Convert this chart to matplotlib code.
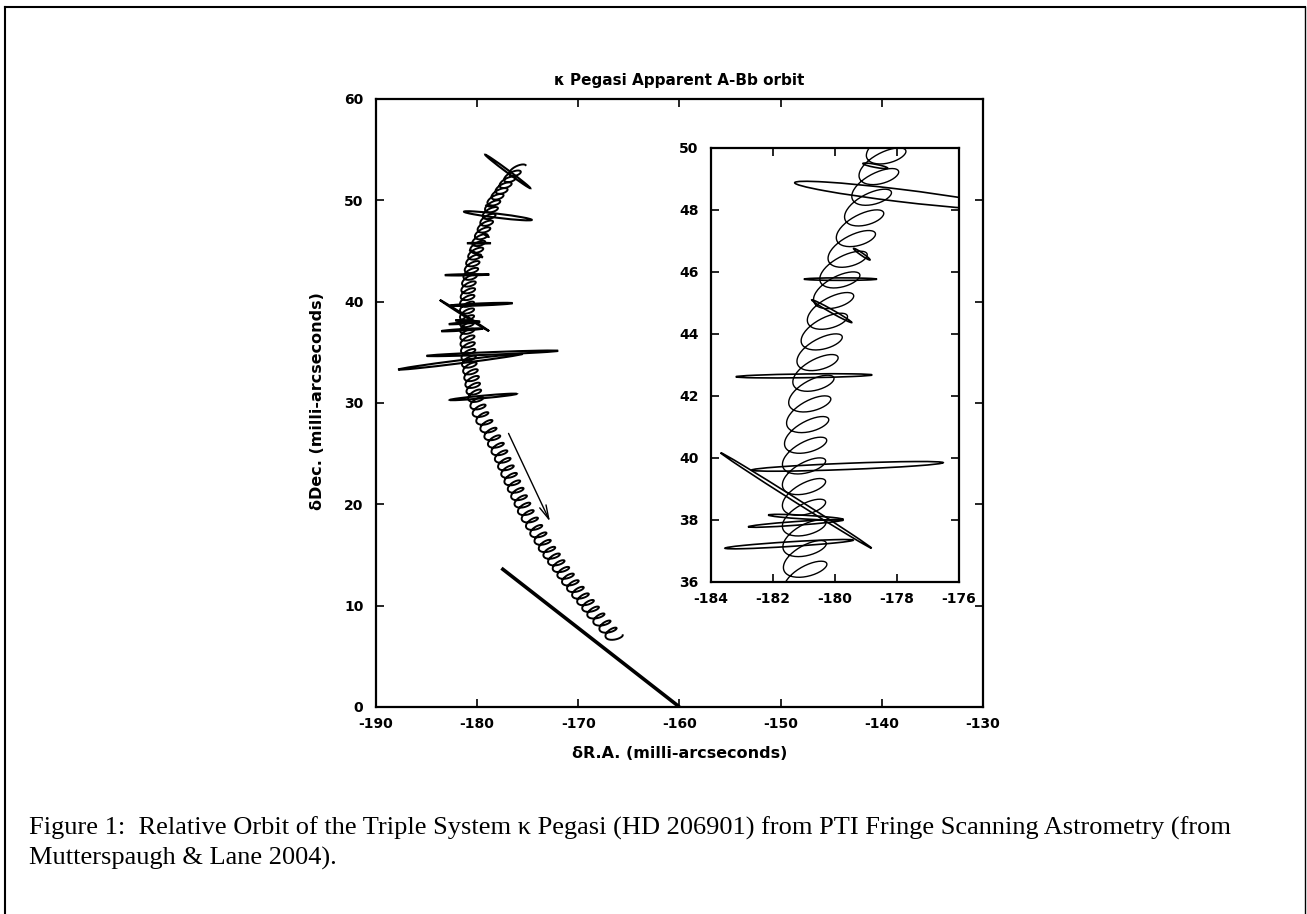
import numpy as np
import matplotlib
matplotlib.use("Agg")
import matplotlib.pyplot as plt
from matplotlib.patches import Ellipse
from matplotlib.lines import Line2D

# Apparent A-Bb orbit: centre track of the wobble
track_dec = [53.2, 52.0, 50.0, 48.0, 46.0, 44.0, 42.0, 40.0, 38.0, 36.0, 34.0,
             31.0, 29.0, 27.0, 25.0, 22.4, 19.1, 15.8, 12.5, 9.25, 6.8]
track_ra = [-175.9, -176.9, -178.3, -179.0, -179.8, -180.4, -180.8, -181.0, -181.0, -180.95, -180.8,
            -180.3, -179.7, -178.65, -177.7, -176.6, -175.1, -173.2, -170.9, -168.4, -166.3]
# number of Ba-Bb loops counted from the top end of the track
track_loops = [0, 2, 5.5, 8.5, 11.5, 14.5, 17.5, 20.5, 23.5, 26.5, 29.5,
               34, 36.7, 39.3, 42, 45.5, 50, 54.5, 59.5, 64.5, 68]

# measurement error ellipses (needle ends + minor axis), mas
err_ra1 = [-179.2, -181.3, -179.1, -179.4, -181.0, -180.75, -183.2, -183.69,
           -182.69, -182.15, -182.8, -183.55, -185.0, -187.8, -182.7]
err_dec1 = [54.5, 48.88, 49.5, 46.76, 45.77, 45.1, 42.62, 40.17,
            39.61, 38.16, 37.78, 37.09, 34.65, 33.3, 30.3]
err_ra2 = [-174.75, -174.6, -178.3, -178.87, -178.65, -179.46, -178.8, -178.82,
           -176.51, -179.73, -179.73, -179.41, -172.0, -175.5, -176.1]
err_dec2 = [51.2, 48.07, 49.35, 46.39, 45.77, 44.37, 42.68, 37.09,
            39.85, 38.02, 38.0, 37.35, 35.15, 34.85, 30.9]
err_w = [0.25, 0.4, 0.1, 0.08, 0.08, 0.1, 0.12, 0.12,
         0.2, 0.12, 0.12, 0.15, 0.25, 0.3, 0.25]

# A-Ba segment and direction-of-motion arrow
line_ra = [-177.6, -160.0]
line_dec = [13.7, 0.0]
arrow_ra = [-176.9, -172.8]
arrow_dec = [27.0, 18.3]

main_xticks = [-190, -180, -170, -160, -150, -140, -130]
main_yticks = [0, 10, 20, 30, 40, 50, 60]
inset_xticks = [-184, -182, -180, -178, -176]
inset_yticks = [36, 38, 40, 42, 44, 46, 48, 50]

title = "\u03ba Pegasi Apparent A-Bb orbit"
xlabel = "\u03b4R.A. (milli-arcseconds)"
ylabel = "\u03b4Dec. (milli-arcseconds)"
caption1 = ("Figure 1:  Relative Orbit of the Triple System \u03ba Pegasi (HD 206901) "
            "from PTI Fringe Scanning Astrometry (from")
caption2 = "Mutterspaugh & Lane 2004)."

plt.rcParams['font.family'] = ['DejaVu Sans']
plt.rcParams['font.weight'] = 'bold'
plt.rcParams['axes.unicode_minus'] = False

W, H = 1307, 914


def fx(px):
    return px / W


def fy(py):
    return 1 - py / H


def wobble_path():
    # loop shape of the inner pair, projected on the sky
    a, b, tilt = 0.74, 0.33, np.radians(22)
    u = np.linspace(track_loops[0], track_loops[-1], 5000)
    ra = np.interp(u, track_loops, track_ra)
    dec = np.interp(u, track_loops, track_dec)
    ph = 2 * np.pi * u
    dx = a * np.cos(ph) * np.cos(tilt) - b * np.sin(ph) * np.sin(tilt)
    dy = a * np.cos(ph) * np.sin(tilt) + b * np.sin(ph) * np.cos(tilt)
    return ra + dx, dec + dy


def draw_errors(ax, lw):
    for x1, y1, x2, y2, w in zip(err_ra1, err_dec1, err_ra2, err_dec2, err_w):
        ang = np.degrees(np.arctan2(y2 - y1, x2 - x1))
        ax.add_patch(Ellipse(((x1 + x2) / 2, (y1 + y2) / 2), np.hypot(x2 - x1, y2 - y1), w,
                             angle=ang, fill=False, ec='black', lw=lw))


def style(ax, xt, yt):
    ax.set_xticks(xt)
    ax.set_yticks(yt)
    ax.tick_params(direction='in', top=True, right=True, length=6, width=1.2,
                   labelsize=10)
    ax.tick_params(axis='x', pad=7)
    ax.tick_params(axis='y', pad=9)
    for s in ax.spines.values():
        s.set_linewidth(1.6)


fig = plt.figure(figsize=(W / 100, H / 100), dpi=100)

orb_ra, orb_dec = wobble_path()

ax = fig.add_axes([fx(376), fy(707), fx(983) - fx(376), fy(99) - fy(707)])
ax.plot(orb_ra, orb_dec, color='black', lw=1.4)
draw_errors(ax, 1.5)
ax.plot(line_ra, line_dec, color='black', lw=2.6, solid_capstyle='butt')
ax.annotate('', xy=(arrow_ra[1], arrow_dec[1]), xytext=(arrow_ra[0], arrow_dec[0]),
            arrowprops=dict(arrowstyle='->,head_length=1.0,head_width=0.25',
                            lw=1.0, color='black', shrinkA=0, shrinkB=0))
ax.set_xlim(-190, -130)
ax.set_ylim(0, 60)
style(ax, main_xticks, main_yticks)

ins = fig.add_axes([fx(711), fy(582), fx(959) - fx(711), fy(148) - fy(582)])
ins.set_facecolor('white')
ins.plot(orb_ra, orb_dec, color='black', lw=1.0)
draw_errors(ins, 1.2)
ins.set_xlim(-184, -176)
ins.set_ylim(36, 50)
style(ins, inset_xticks, inset_yticks)

fig.text(fx(679.5), fy(81), title, ha='center', va='center', fontsize=11)
fig.text(fx(679.5), fy(754), xlabel, ha='center', va='center', fontsize=11.5)
fig.text(fx(317), fy(401), ylabel, ha='center', va='center', rotation=90, fontsize=11.5)

fig.text(fx(29), fy(828), caption1, ha='left', va='center', fontsize=19,
         family='Liberation Serif', weight='normal')
fig.text(fx(29), fy(858), caption2, ha='left', va='center', fontsize=19,
         family='Liberation Serif', weight='normal')

# page frame
fig.add_artist(Line2D([fx(5), fx(5)], [0, fy(6.5)], transform=fig.transFigure, color='black', lw=1.5))
fig.add_artist(Line2D([fx(5), fx(1305)], [fy(6.5), fy(6.5)], transform=fig.transFigure, color='black', lw=1.5))
fig.add_artist(Line2D([fx(1305), fx(1305)], [0, fy(6.5)], transform=fig.transFigure, color='black', lw=1.0))

fig.savefig('out.png', dpi=100)
